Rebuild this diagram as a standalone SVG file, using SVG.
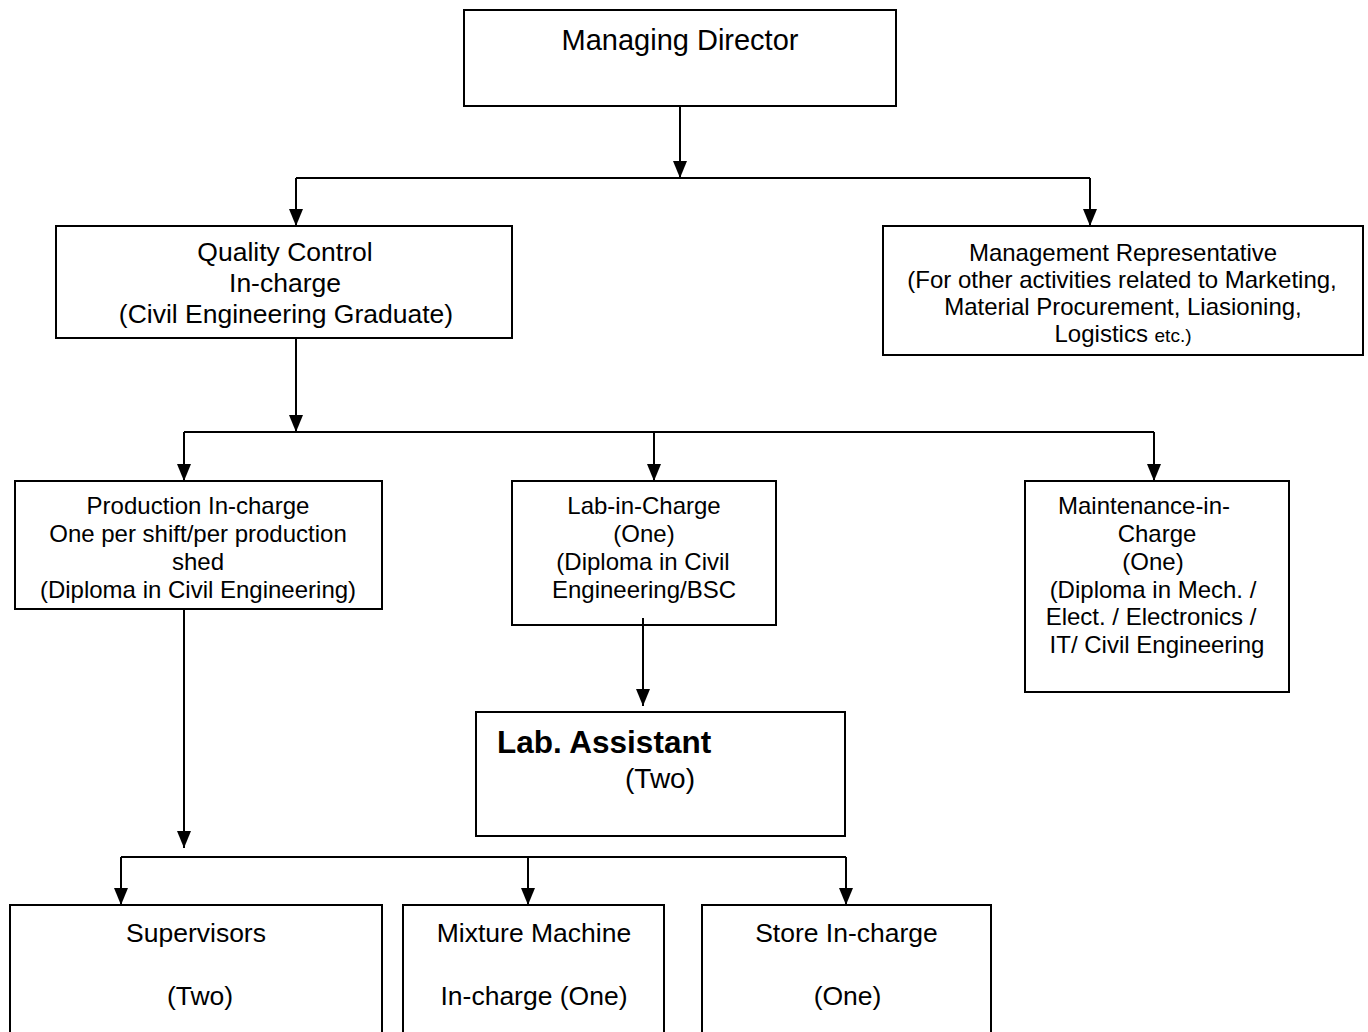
<svg xmlns="http://www.w3.org/2000/svg" width="1368" height="1032" viewBox="0 0 1368 1032">
<style>
.box{fill:#fff;stroke:#000;stroke-width:2}
.ln{fill:none;stroke:#000;stroke-width:2}
text{font-family:"Liberation Sans",Arial,sans-serif;fill:#000}
.c{text-anchor:middle}
.s24{font-size:24px}
.s26{font-size:26.5px}
</style>
<defs>
<marker id="ah" markerUnits="userSpaceOnUse" markerWidth="17" markerHeight="14" refX="17" refY="7" orient="auto">
<path d="M0,0 L17,7 L0,14 z" fill="#000"/>
</marker>
</defs>
<rect width="1368" height="1032" fill="#fff"/>
<g id="md">
<rect class="box" x="464" y="10" width="432" height="96"/>
<text class="c" x="680" y="50" font-size="29">Managing Director</text>
</g>
<g id="qc">
<rect class="box" x="56" y="226" width="456" height="112"/>
<text class="c s26" x="285" y="261">Quality Control</text>
<text class="c s26" x="285" y="292">In-charge</text>
<text class="c s26" x="286" y="323">(Civil Engineering Graduate)</text>
</g>
<g id="mr">
<rect class="box" x="883" y="226" width="480" height="129"/>
<text class="c s24" x="1123" y="260.5">Management Representative</text>
<text class="c s24" x="1122" y="287.5">(For other activities related to Marketing,</text>
<text class="c s24" x="1123" y="314.5">Material Procurement, Liasioning,</text>
<text class="c s24" x="1123" y="341.5">Logistics <tspan font-size="19">etc.)</tspan></text>
</g>
<g id="production">
<rect class="box" x="15" y="481" width="367" height="128"/>
<text class="c s24" x="198" y="513.5">Production In-charge</text>
<text class="c s24" x="198" y="541.5">One per shift/per production</text>
<text class="c s24" x="198" y="569.5">shed</text>
<text class="c s24" x="198" y="597.5">(Diploma in Civil Engineering)</text>
</g>
<g id="lab">
<rect class="box" x="512" y="481" width="264" height="144"/>
<text class="c s24" x="644" y="513.5">Lab-in-Charge</text>
<text class="c s24" x="644" y="541.5">(One)</text>
<text class="c s24" x="643" y="569.5">(Diploma in Civil</text>
<text class="c s24" x="644" y="597.5">Engineering/BSC</text>
</g>
<g id="maintenance">
<rect class="box" x="1025" y="481" width="264" height="211"/>
<text class="c s24" x="1144" y="513.5">Maintenance-in-</text>
<text class="c s24" x="1157" y="541.5">Charge</text>
<text class="c s24" x="1153" y="569.5">(One)</text>
<text class="c s24" x="1153" y="597.5">(Diploma in Mech. /</text>
<text class="c s24" x="1151" y="624.5">Elect. / Electronics /</text>
<text class="c s24" x="1157" y="652.5">IT/ Civil Engineering</text>
</g>
<g id="labassistant">
<rect class="box" x="476" y="712" width="369" height="124"/>
<text x="497" y="753" font-size="31.5" font-weight="bold">Lab. Assistant</text>
<text class="c" x="660" y="788" font-size="28">(Two)</text>
</g>
<g id="supervisors">
<rect class="box" x="10" y="905" width="372" height="140"/>
<text class="c s26" x="196" y="941.5">Supervisors</text>
<text class="c s26" x="200" y="1004.5">(Two)</text>
</g>
<g id="mixture">
<rect class="box" x="403" y="905" width="261" height="140"/>
<text class="c s26" x="534" y="941.5">Mixture Machine</text>
<text class="c s26" x="534" y="1004.5">In-charge (One)</text>
</g>
<g id="store">
<rect class="box" x="702" y="905" width="289" height="140"/>
<text class="c s26" x="846.5" y="941.5">Store In-charge</text>
<text class="c s26" x="847.5" y="1004.5">(One)</text>
</g>
<g id="connectors">
<line class="ln" x1="680" y1="106" x2="680" y2="178" marker-end="url(#ah)"/>
<line class="ln" x1="296" y1="178" x2="1090" y2="178"/>
<line class="ln" x1="296" y1="178" x2="296" y2="226" marker-end="url(#ah)"/>
<line class="ln" x1="1090" y1="178" x2="1090" y2="226" marker-end="url(#ah)"/>
<line class="ln" x1="296" y1="338" x2="296" y2="432" marker-end="url(#ah)"/>
<line class="ln" x1="184" y1="432" x2="1154" y2="432"/>
<line class="ln" x1="184" y1="432" x2="184" y2="481" marker-end="url(#ah)"/>
<line class="ln" x1="654" y1="432" x2="654" y2="481" marker-end="url(#ah)"/>
<line class="ln" x1="1154" y1="432" x2="1154" y2="481" marker-end="url(#ah)"/>
<line class="ln" x1="184" y1="609" x2="184" y2="848" marker-end="url(#ah)"/>
<line class="ln" x1="643" y1="618" x2="643" y2="706" marker-end="url(#ah)"/>
<line class="ln" x1="121" y1="857" x2="846" y2="857"/>
<line class="ln" x1="121" y1="857" x2="121" y2="905" marker-end="url(#ah)"/>
<line class="ln" x1="528" y1="857" x2="528" y2="905" marker-end="url(#ah)"/>
<line class="ln" x1="846" y1="857" x2="846" y2="905" marker-end="url(#ah)"/>
</g>
</svg>
